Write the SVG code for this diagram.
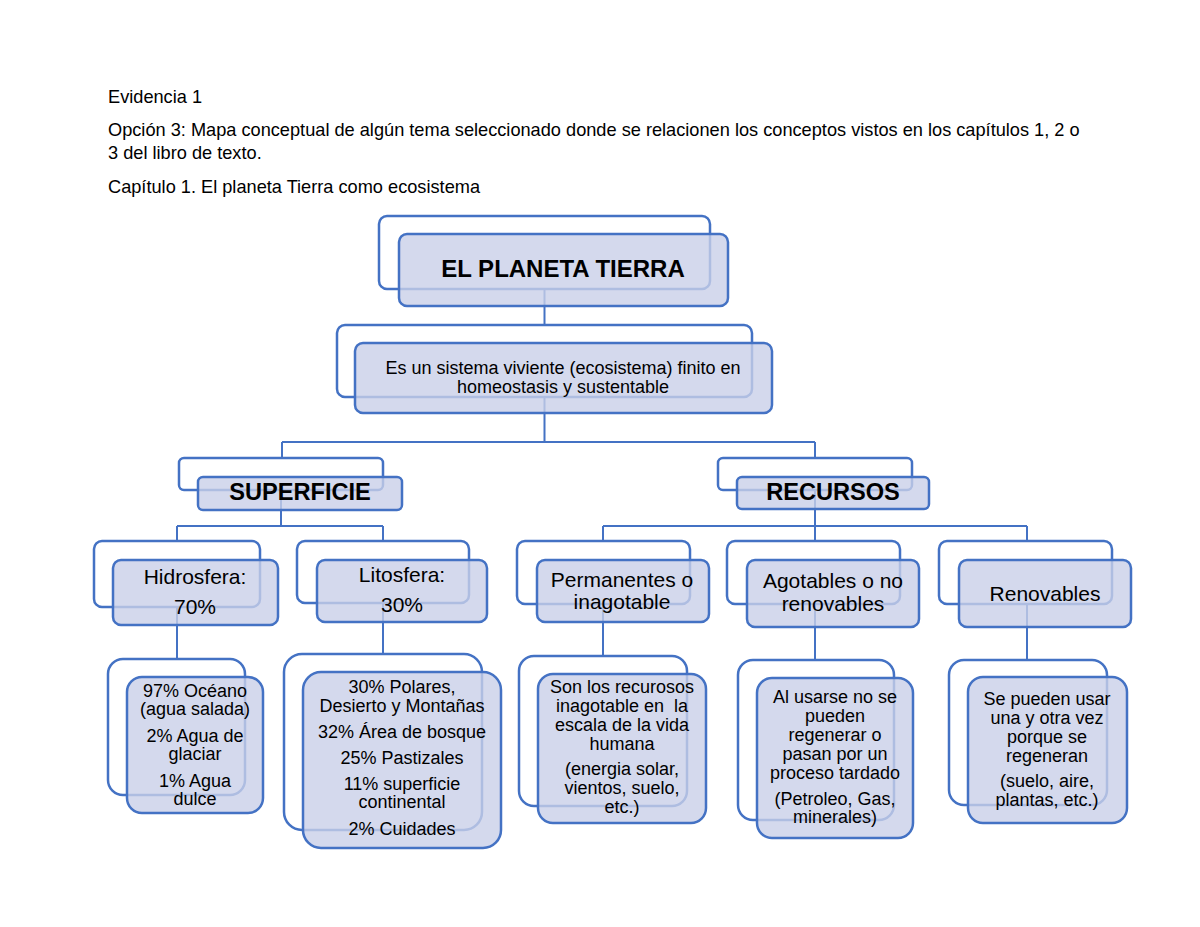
<svg xmlns="http://www.w3.org/2000/svg" width="1200" height="927" viewBox="0 0 1200 927">
<style>
.bg{fill:#ffffff}
.hd{font-family:"Liberation Sans",Arial,sans-serif;font-size:18.2px;fill:#000}
.back{fill:none;stroke:#4472C4;stroke-width:2.5}
.front{fill:#c9d0e8;fill-opacity:0.8;stroke:#4472C4;stroke-width:2.5}
.con{fill:none;stroke:#4472C4;stroke-width:2}
.t{font-family:"Liberation Sans",Arial,sans-serif;font-size:18px;fill:#000;text-anchor:middle}
.t3{font-family:"Liberation Sans",Arial,sans-serif;font-size:21px;fill:#000;text-anchor:middle}
.tb{font-family:"Liberation Sans",Arial,sans-serif;font-weight:bold;fill:#000;text-anchor:middle}
</style>
<rect class="bg" x="0" y="0" width="1200" height="927"/>
<g id="header">
<text class="hd" x="108" y="103">Evidencia 1</text>
<text class="hd" x="108" y="136">Opción 3: Mapa conceptual de algún tema seleccionado donde se relacionen los conceptos vistos en los capítulos 1, 2 o</text>
<text class="hd" x="108" y="159">3 del libro de texto.</text>
<text class="hd" x="108" y="193">Capítulo 1. El planeta Tierra como ecosistema</text>
</g>
<g id="connectors">
<path class="con" d="M544.5 289 V325"/>
<path class="con" d="M544.5 397 V442 M282 442 H815 M282 442 V458 M815 442 V458"/>
<path class="con" d="M281 490 V526 M177 526 H383 M177 526 V541 M383 526 V541"/>
<path class="con" d="M815 490 V526 M603 526 H1027 M603 526 V541 M815 526 V541 M1027 526 V541"/>
<path class="con" d="M177 607 V659"/>
<path class="con" d="M383 603 V654"/>
<path class="con" d="M603 604 V656"/>
<path class="con" d="M815 604 V660"/>
<path class="con" d="M1027 604 V660"/>
</g>
<g id="n-planeta">
<rect class="back" x="379" y="216" width="331" height="73" rx="8"/>
<rect class="front" x="399" y="234" width="329" height="72" rx="8"/>
<text class="tb" x="563" y="277" font-size="24">EL PLANETA TIERRA</text>
</g>
<g id="n-sistema">
<rect class="back" x="337" y="325" width="415" height="72" rx="8"/>
<rect class="front" x="355" y="343" width="417" height="70" rx="8"/>
<text class="t" x="563" y="374">Es un sistema viviente (ecosistema) finito en</text>
<text class="t" x="563" y="393">homeostasis y sustentable</text>
</g>
<g id="n-superficie">
<rect class="back" x="179" y="458" width="204" height="32" rx="5"/>
<rect class="front" x="198" y="477" width="204" height="33" rx="5"/>
<text class="tb" x="300" y="500" font-size="23.6">SUPERFICIE</text>
</g>
<g id="n-recursos">
<rect class="back" x="718" y="458" width="194" height="32" rx="5"/>
<rect class="front" x="737" y="477" width="192" height="32" rx="5"/>
<text class="tb" x="833" y="500" font-size="23.6">RECURSOS</text>
</g>
<g id="n-hidrosfera">
<rect class="back" x="94" y="541" width="166" height="66" rx="8"/>
<rect class="front" x="113" y="560" width="165" height="65" rx="8"/>
<text class="t3" x="195" y="584">Hidrosfera:</text>
<text class="t3" x="195" y="614">70%</text>
</g>
<g id="n-litosfera">
<rect class="back" x="297" y="541" width="172" height="62" rx="8"/>
<rect class="front" x="317" y="560" width="170" height="62" rx="8"/>
<text class="t3" x="402" y="582">Litosfera:</text>
<text class="t3" x="402" y="612">30%</text>
</g>
<g id="n-permanentes">
<rect class="back" x="517" y="541" width="173" height="63" rx="8"/>
<rect class="front" x="537" y="560" width="172" height="62" rx="8"/>
<text class="t3" x="622" y="587">Permanentes o</text>
<text class="t3" x="622" y="609">inagotable</text>
</g>
<g id="n-agotables">
<rect class="back" x="727" y="541" width="173" height="63" rx="8"/>
<rect class="front" x="747" y="560" width="172" height="67" rx="8"/>
<text class="t3" x="833" y="588">Agotables o no</text>
<text class="t3" x="833" y="611">renovables</text>
</g>
<g id="n-renovables">
<rect class="back" x="939" y="541" width="173" height="63" rx="8"/>
<rect class="front" x="959" y="560" width="172" height="67" rx="8"/>
<text class="t3" x="1045" y="601">Renovables</text>
</g>
<g id="n-hidro-detalle">
<rect class="back" x="108" y="659" width="137" height="136" rx="15"/>
<rect class="front" x="127" y="677" width="136" height="136" rx="15"/>
<text class="t" x="195" y="697">97% Océano</text>
<text class="t" x="195" y="715">(agua salada)</text>
<text class="t" x="195" y="742">2% Agua de</text>
<text class="t" x="195" y="760">glaciar</text>
<text class="t" x="195" y="787">1% Agua</text>
<text class="t" x="195" y="805">dulce</text>
</g>
<g id="n-lito-detalle">
<rect class="back" x="284" y="654" width="198" height="176" rx="18"/>
<rect class="front" x="303" y="672" width="198" height="176" rx="18"/>
<text class="t" x="402" y="693">30% Polares,</text>
<text class="t" x="402" y="712">Desierto y Montañas</text>
<text class="t" x="402" y="738">32% Área de bosque</text>
<text class="t" x="402" y="764">25% Pastizales</text>
<text class="t" x="402" y="790">11% superficie</text>
<text class="t" x="402" y="808">continental</text>
<text class="t" x="402" y="835">2% Cuidades</text>
</g>
<g id="n-perm-detalle">
<rect class="back" x="519" y="656" width="168" height="150" rx="15"/>
<rect class="front" x="538" y="674" width="168" height="149" rx="15"/>
<text class="t" x="622" y="693">Son los recurosos</text>
<text class="t" x="622" y="712" xml:space="preserve">inagotable en  la</text>
<text class="t" x="622" y="731">escala de la vida</text>
<text class="t" x="622" y="750">humana</text>
<text class="t" x="622" y="775">(energia solar,</text>
<text class="t" x="622" y="794">vientos, suelo,</text>
<text class="t" x="622" y="813">etc.)</text>
</g>
<g id="n-agot-detalle">
<rect class="back" x="738" y="660" width="156" height="160" rx="15"/>
<rect class="front" x="757" y="678" width="156" height="160" rx="15"/>
<text class="t" x="835" y="703">Al usarse no se</text>
<text class="t" x="835" y="722">pueden</text>
<text class="t" x="835" y="741">regenerar o</text>
<text class="t" x="835" y="760">pasan por un</text>
<text class="t" x="835" y="779">proceso tardado</text>
<text class="t" x="835" y="805">(Petroleo, Gas,</text>
<text class="t" x="835" y="823">minerales)</text>
</g>
<g id="n-renov-detalle">
<rect class="back" x="949" y="660" width="158" height="145" rx="15"/>
<rect class="front" x="968" y="677" width="159" height="146" rx="15"/>
<text class="t" x="1047" y="705">Se pueden usar</text>
<text class="t" x="1047" y="724">una y otra vez</text>
<text class="t" x="1047" y="743">porque se</text>
<text class="t" x="1047" y="762">regeneran</text>
<text class="t" x="1047" y="787">(suelo, aire,</text>
<text class="t" x="1047" y="806">plantas, etc.)</text>
</g>
</svg>
